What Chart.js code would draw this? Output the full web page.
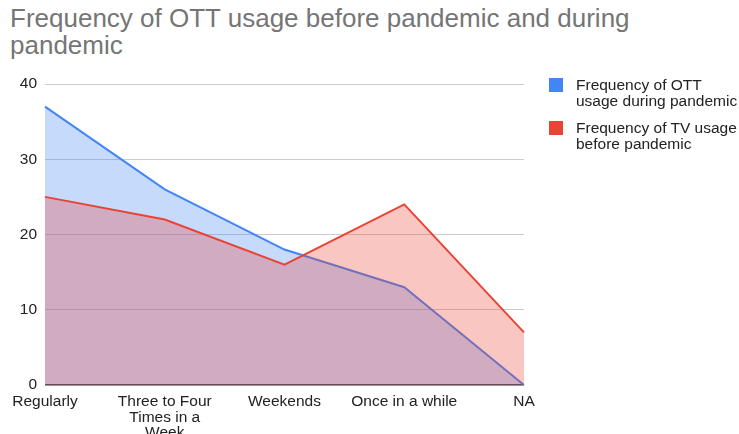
<!DOCTYPE html>
<html lang="en">
<head>
    <meta charset="UTF-8">
    <title>Frequency of OTT usage before pandemic and during pandemic</title>
    <script src="https://cdn.jsdelivr.net/npm/chart.js"></script>
    <style>
        body {
            margin: 0;
            padding: 0;
            background-color: #fff;
            font-family: Arial, 'Liberation Sans', sans-serif;
            overflow: hidden;
        }
        #wrap {
            position: relative;
            width: 739px;
            height: 434px;
            overflow: hidden;
        }
        #title {
            position: absolute;
            left: 10px;
            top: 5px;
            width: 700px;
            font-size: 26px;
            line-height: 27px;
            color: #757575;
        }
        #myChart {
            position: absolute;
            left: 0;
            top: 0;
        }
        #legend {
            position: absolute;
            left: 549px;
            top: 77px;
            font-size: 15.5px;
            line-height: 15.5px;
            color: #222;
        }
        .item {
            display: flex;
            align-items: flex-start;
            margin-bottom: 12px;
        }
        .box {
            width: 14px;
            height: 14px;
            margin-right: 13px;
            margin-top: 1px;
            flex: none;
        }
    </style>
</head>
<body>
<div id="wrap">
    <div id="title">Frequency of OTT usage before pandemic and during<br>pandemic</div>
    <canvas id="myChart" width="739" height="434"></canvas>
    <div id="legend"></div>
</div>

<script>
    const categories = ['Regularly', ['Three to Four', 'Times in a', 'Week'], 'Weekends', 'Once in a while', 'NA'];
    const ottDuring = [37, 26, 18, 13, 0];
    const tvBefore = [25, 22, 16, 24, 7];
    const yTicks = [0, 10, 20, 30, 40];

    const seriesNames = ['Frequency of OTT usage during pandemic', 'Frequency of TV usage before pandemic'];
    const seriesLegendLines = [
        ['Frequency of OTT', 'usage during pandemic'],
        ['Frequency of TV usage', 'before pandemic']
    ];
    const colors = ['#4285f4', '#ea4335'];
    const fills = ['rgba(66, 133, 244, 0.3)', 'rgba(234, 67, 53, 0.3)'];

    Chart.defaults.font.family = "Arial, 'Liberation Sans', sans-serif";
    Chart.defaults.font.size = 15.5;
    Chart.defaults.color = '#222';

    const ctx = document.getElementById('myChart').getContext('2d');
    new Chart(ctx, {
        type: 'line',
        data: {
            labels: categories,
            datasets: [
                {
                    label: seriesNames[0],
                    data: ottDuring,
                    borderColor: colors[0],
                    backgroundColor: fills[0],
                    borderWidth: 2,
                    pointRadius: 0,
                    fill: 'origin',
                    tension: 0,
                    order: 1
                },
                {
                    label: seriesNames[1],
                    data: tvBefore,
                    borderColor: colors[1],
                    backgroundColor: fills[1],
                    borderWidth: 2,
                    pointRadius: 0,
                    fill: 'origin',
                    tension: 0,
                    order: 0
                }
            ]
        },
        options: {
            responsive: false,
            animation: false,
            layout: {
                padding: { left: 0, right: 215, top: 84, bottom: 0 }
            },
            plugins: {
                legend: { display: false },
                title: { display: false },
                tooltip: { enabled: false }
            },
            scales: {
                x: {
                    offset: false,
                    grid: { display: false },
                    border: { display: false },
                    ticks: {
                        autoSkip: false,
                        maxRotation: 0,
                        minRotation: 0,
                        padding: 1,
                        color: '#222',
                        font: { size: 15.5, lineHeight: 1.0 }
                    },
                    afterFit: axis => { axis.height = 49; }
                },
                y: {
                    min: 0,
                    max: 40,
                    afterBuildTicks: axis => { axis.ticks = yTicks.map(v => ({ value: v })); },
                    grid: {
                        drawTicks: false,
                        color: c => c.tick && c.tick.value === 0 ? '#333' : '#cccccc',
                        lineWidth: c => c.tick && c.tick.value === 0 ? 1.5 : 1
                    },
                    border: { display: false },
                    ticks: {
                        padding: 8,
                        color: '#222',
                        font: { size: 15.5 }
                    },
                    afterFit: axis => { axis.width = 45; }
                }
            }
        }
    });

    // legend
    const legend = document.getElementById('legend');
    seriesLegendLines.forEach((lines, i) => {
        const item = document.createElement('div');
        item.className = 'item';
        item.innerHTML = `<div class="box" style="background:${colors[i]}"></div><div>${lines.join('<br>')}</div>`;
        legend.appendChild(item);
    });
</script>
</body>
</html>
